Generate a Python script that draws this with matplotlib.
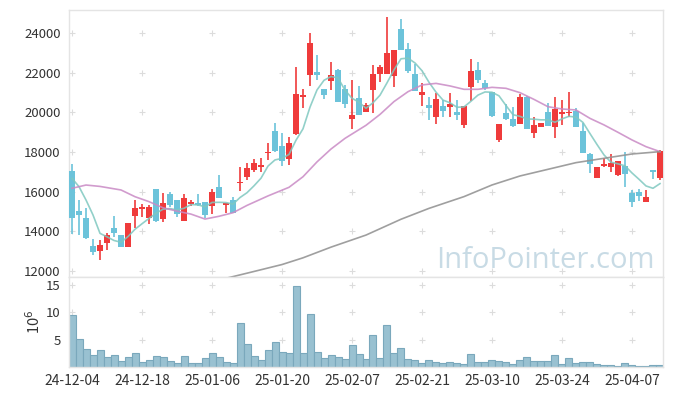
import matplotlib.pyplot as plt
import numpy as np
import pandas as pd

plt.rcParams['font.family'] = ['Noto Sans CJK KR', 'DejaVu Sans']

# daily OHLC, 85 trading days
opens = [17040, 15020, 14650, 13250, 13010, 13390, 14140, 13790, 13220, 14780,
         15120, 14650, 16110, 14600, 15860, 15580, 14530, 15360, 15390, 15470,
         15290, 16220, 15320, 15580, 16420, 16720, 17090, 17230, 17950, 19060,
         18310, 17650, 18910, 20770, 21890, 22060, 21200, 21610, 22150, 21170,
         19650, 20710, 20040, 21140, 21940, 21940, 21840, 24220, 23210, 21940,
         20880, 20360, 19790, 20330, 20290, 20020, 19370, 21300, 22150, 21470,
         21030, 18610, 19990, 19650, 19420, 20800, 18980, 19280, 20010, 19280,
         19920, 19960, 20090, 19060, 17880, 16700, 17290, 17230, 16840, 17310,
         15910, 15960, 15490, 17090, 16670]
highs = [17400, 15580, 15150, 13590, 13550, 13930, 14770, 13790, 14430, 15580,
         15370, 15320, 16110, 15910, 15960, 15580, 15860, 15580, 15880, 15470,
         16110, 16840, 15410, 15740, 17230, 17430, 17630, 17680, 18440, 19450,
         18950, 18740, 22320, 21170, 24000, 22910, 21200, 22570, 22180, 21390,
         21640, 21340, 20460, 22400, 22400, 24810, 23160, 24710, 23490, 22450,
         21510, 20770, 21000, 20630, 21000, 20630, 20330, 22690, 22530, 21640,
         21030, 19420, 20430, 20260, 20930, 20830, 19790, 19480, 20500, 20770,
         20630, 21020, 20210, 19450, 17930, 17260, 17680, 17900, 17560, 18020,
         16080, 16130, 16080, 17090, 18100]
lows = [13840, 13810, 13590, 12800, 12540, 13050, 13690, 13220, 13220, 14160,
        14730, 14360, 14480, 14480, 15240, 14730, 14530, 15290, 15250, 14650,
        14850, 15660, 14900, 14900, 16050, 16590, 17010, 17010, 17600, 18020,
        17310, 17340, 18860, 20210, 21340, 21640, 20680, 21140, 20550, 20210,
        19150, 19870, 20040, 19960, 21560, 21940, 21270, 23160, 21980, 21100,
        20350, 19620, 19420, 19750, 19790, 19620, 19200, 20580, 21470, 21140,
        19790, 18520, 19620, 19280, 19420, 19160, 18730, 19250, 19320, 18690,
        19370, 19790, 19280, 17930, 16920, 16670, 17260, 16990, 16800, 16220,
        15240, 15540, 15490, 16640, 16590]
closes = [14680, 14820, 13670, 12960, 13300, 13810, 13890, 13220, 14400, 15150,
          15200, 15240, 14530, 15410, 15320, 14850, 15660, 15470, 15340, 14820,
          15960, 15690, 15410, 14940, 16490, 17180, 17430, 17340, 18000, 18050,
          17560, 18440, 20930, 20880, 23530, 21910, 20880, 21880, 20550, 20410,
          19870, 19870, 20360, 21940, 22320, 22990, 23160, 23160, 22100, 21100,
          21030, 20240, 20660, 20090, 20430, 19890, 20330, 22100, 21640, 21220,
          19820, 19420, 19650, 19320, 20800, 19160, 19370, 19480, 19320, 20190,
          20020, 20010, 19280, 17970, 17380, 17260, 17380, 17430, 17560, 16870,
          15460, 15790, 15740, 16970, 18050]
# closes of the four sessions before the window (for the 5-day average)
prev_close = [16940, 17035, 16750, 17945]

# volume, millions of shares
volume = [9.5, 5.1, 3.25, 2.15, 3.06, 1.78, 2.15, 1.04, 1.78, 2.5,
          0.86, 1.22, 1.96, 1.78, 1.04, 0.67, 1.96, 0.67, 0.67, 1.6,
          2.5, 1.78, 0.86, 0.67, 8.0, 4.16, 1.96, 1.22, 3.06, 4.53,
          2.7, 2.5, 14.8, 2.5, 9.7, 2.7, 1.6, 2.15, 1.78, 1.41,
          3.98, 2.33, 1.41, 5.8, 1.6, 7.65, 2.5, 3.43, 1.41, 1.22,
          0.67, 1.22, 0.86, 0.67, 0.86, 0.67, 0.49, 2.33, 0.86, 0.86,
          1.22, 1.04, 0.86, 0.49, 1.22, 1.78, 1.04, 1.04, 1.04, 2.15,
          0.49, 1.6, 0.67, 0.86, 0.86, 0.49, 0.3, 0.3, 0.12, 0.67,
          0.3, 0.12, 0.12, 0.3, 0.3]

# 20-day and long moving averages
ma20_idx = [0, 2, 4, 7, 9, 11, 13, 15, 17, 19, 21, 23, 25, 28, 31, 33, 35, 37, 39, 42,
            44, 46, 48, 50, 52, 54, 56, 58, 60, 62, 64, 66, 68, 70, 72, 74, 76, 78, 80, 82, 84]
ma20 = [16165, 16330, 16260, 16080, 15740, 15490, 15180, 15010, 14860, 14610,
        14750, 14930, 15300, 15780, 16215, 16750, 17500, 18150, 18690, 19350,
        19900, 20550, 21050, 21390, 21470, 21340, 21170, 21170, 21270, 21220,
        21000, 20660, 20290, 20175, 20125, 19700, 19370, 18995, 18610, 18270, 18020]
ma_long_idx = [20, 23, 26, 30, 33, 37, 42, 47, 51, 56, 60, 64, 68, 72, 76, 80, 84]
ma_long = [11450, 11700, 11960, 12310, 12650, 13190, 13800, 14600, 15150, 15744,
           16333, 16788, 17125, 17462, 17681, 17900, 18018]

tick_labels = ['24-12-04', '24-12-18', '25-01-06', '25-01-20', '25-02-07',
               '25-02-21', '25-03-10', '25-03-24', '25-04-07']

up_color = '#ef3b3b'
down_color = '#6cc3da'
frame = '#e4e4e4'
txt = '#333333'

fig = plt.figure(figsize=(6.73, 3.96), dpi=100)
W, H = 673, 396
ax = fig.add_axes([69 / W, 1 - 277 / H, (663 - 69) / W, (277 - 10) / H])
axv = fig.add_axes([69 / W, 1 - 367 / H, (663 - 69) / W, (367 - 277) / H], sharex=ax)

x = np.arange(len(closes))
o = np.array(opens)
c = np.array(closes)
up = c >= o
colors = np.where(up, up_color, down_color)

# candles
ax.vlines(x, lows, highs, colors=colors, linewidth=1.2, zorder=2)
body_bottom = np.minimum(o, c)
body_height = np.maximum(np.abs(c - o), 70)
ax.bar(x, body_height, bottom=body_bottom, width=0.72, color=colors, linewidth=0, zorder=3)

# moving averages
ma5 = pd.Series(prev_close + closes).rolling(5).mean().iloc[4:].to_numpy()
ax.plot(x, ma5, color='#7fc8c0', linewidth=1.2, alpha=0.85, zorder=4)
ax.plot(ma20_idx, ma20, color='#c98ac5', linewidth=1.2, alpha=0.85, zorder=4)
ax.plot(ma_long_idx, ma_long, color='#959595', linewidth=1.2, alpha=0.9, zorder=4)

ax.set_xlim(-0.43, 84.43)
ax.set_ylim(11680, 25180)
ax.set_yticks(range(12000, 24001, 2000))

# volume
axv.bar(x, volume, width=1.0, color='#99c1d1', edgecolor='#7aa8bc', linewidth=0.8, zorder=2)
axv.set_ylim(0, 16.5)
axv.set_yticks([5, 10, 15])
axv.set_xticks(range(0, 85, 10))
axv.set_xticklabels(tick_labels)
axv.set_ylabel('10$^6$', color=txt, fontsize=10.5, labelpad=2)

# grid crosses
gx, gy = np.meshgrid(range(0, 85, 10), range(12000, 24001, 2000))
ax.plot(gx.ravel(), gy.ravel(), '+', color='#dcdcdc', markersize=5, markeredgewidth=0.8, zorder=1)
gx, gy = np.meshgrid(range(0, 85, 10), [5, 10, 15])
axv.plot(gx.ravel(), gy.ravel(), '+', color='#dcdcdc', markersize=5, markeredgewidth=0.8, zorder=1)

for a in (ax, axv):
    for s in a.spines.values():
        s.set_color(frame)
        s.set_linewidth(1)
    a.tick_params(length=0, pad=6, labelsize=9.5, colors=txt)
ax.tick_params(labelbottom=False)
axv.tick_params(axis='x', pad=5, labelsize=10)

fig.text(655 / W, 1 - 268 / H, 'InfoPointer.com', ha='right', va='baseline',
         fontsize=21, color='#c8dbe5', family='Open Sans', zorder=5)

fig.savefig('out.png', dpi=100)
